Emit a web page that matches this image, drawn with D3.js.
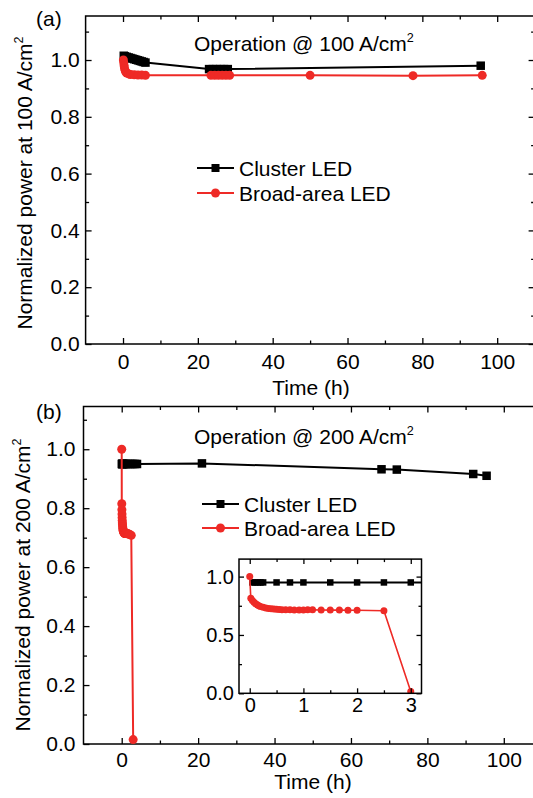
<!DOCTYPE html>
<html><head><meta charset="utf-8">
<script src="https://cdn.jsdelivr.net/npm/d3@7"></script>
<style>
html,body{margin:0;padding:0;background:#fff;}
svg{display:block;font-family:"Liberation Sans",Arial,sans-serif;}
</style></head>
<body><svg id="c" width="533" height="798"></svg>
<script>
// ---------- data ----------
const xTicks = [0, 20, 40, 60, 80, 100];
const xMinorTicks = [10, 30, 50, 70, 90, 110];
const yTicksA = [0, 0.2, 0.4, 0.6, 0.8, 1.0];
const yMinorA = [0.1, 0.3, 0.5, 0.7, 0.9, 1.1];
const insetXTicks = [0, 1, 2, 3];
const insetXMinor = [0.5, 1.5, 2.5];
const insetYTicks = [0, 0.5, 1.0];
const insetYMinor = [0.25, 0.75];

// Panel (a): 100 A/cm2
const tA_cluster = [0.2, 0.5, 1, 1.5, 2, 2.5, 3, 3.5, 4, 4.5, 5, 5.5, 6, 23, 24, 25, 26, 27, 28, 95.6];
const vA_cluster = [1.015, 1.013, 1.011, 1.009, 1.007, 1.005, 1.003, 1.001, 0.999, 0.997, 0.995, 0.993, 0.991, 0.968, 0.968, 0.968, 0.968, 0.968, 0.968, 0.980];
const tA_broad = [0.1, 0.2, 0.3, 0.4, 0.6, 0.8, 1.0, 1.5, 2, 3, 4, 5, 6, 23.5, 24.5, 25.5, 26.5, 27.5, 28.5, 50, 77.5, 96];
const vA_broad = [1.0, 0.99, 0.98, 0.97, 0.962, 0.957, 0.954, 0.951, 0.949, 0.948, 0.947, 0.947, 0.946, 0.946, 0.946, 0.946, 0.946, 0.946, 0.946, 0.946, 0.945, 0.946];

// Panel (b): 200 A/cm2
const tB_cluster = [0.05, 0.1, 0.15, 0.2, 0.25, 0.5, 0.75, 1, 1.5, 2, 2.5, 3, 3.5, 4, 21, 68, 72, 92, 95.5];
const vB_cluster = [0.95, 0.95, 0.95, 0.95, 0.95, 0.95, 0.95, 0.95, 0.95, 0.95, 0.95, 0.95, 0.95, 0.95, 0.952, 0.932, 0.931, 0.916, 0.91];
const tB_broad = [0, 0.02, 0.05, 0.08, 0.11, 0.14, 0.17, 0.2, 0.25, 0.3, 0.35, 0.4, 0.45, 0.5, 0.55, 0.6, 0.67, 0.75, 0.83, 0.92, 1.0, 1.08, 1.17, 1.33, 1.5, 1.67, 1.83, 2.0, 2.5, 3.0];
const vB_broad = [1.0, 0.815, 0.795, 0.78, 0.768, 0.758, 0.75, 0.744, 0.737, 0.731, 0.727, 0.724, 0.722, 0.72, 0.718, 0.717, 0.716, 0.715, 0.714, 0.714, 0.714, 0.715, 0.715, 0.714, 0.713, 0.713, 0.712, 0.712, 0.708, 0.015];

const RED = "#ee2a26";
const svg = d3.select("#c");
const FONT = 21;

function zip(t, v) { return t.map((d, i) => ({ t: d, v: v[i] })); }

function frameAxes(g, x, y, opt) {
  const [x0, x1] = x.range(), [y0, y1] = y.range();
  const maj = opt.maj, mnr = opt.mnr;
  g.append("g").attr("transform", `translate(0,${y0})`)
    .call(d3.axisBottom(x).tickValues(opt.xt).tickSize(-maj).tickSizeOuter(0).tickPadding(opt.xpad).tickFormat(d3.format("d")))
    .call(s => s.selectAll("text").attr("font-size", opt.fs).attr("fill", "#000").attr("font-family", "Liberation Sans, Arial"));
  g.append("g").attr("transform", `translate(0,${y0})`)
    .call(d3.axisBottom(x).tickValues(opt.xm).tickSize(-mnr).tickSizeOuter(0).tickFormat(""));
  g.append("g").attr("transform", `translate(0,${y1})`)
    .call(d3.axisTop(x).tickValues(opt.xt).tickSize(-maj).tickSizeOuter(0).tickFormat(""));
  g.append("g").attr("transform", `translate(0,${y1})`)
    .call(d3.axisTop(x).tickValues(opt.xm).tickSize(-mnr).tickSizeOuter(0).tickFormat(""));
  g.append("g").attr("transform", `translate(${x0},0)`)
    .call(d3.axisLeft(y).tickValues(opt.yt).tickSize(-maj).tickSizeOuter(0).tickPadding(opt.ypad).tickFormat(d3.format(".1f")))
    .call(s => s.selectAll("text").attr("font-size", opt.fs).attr("fill", "#000").attr("font-family", "Liberation Sans, Arial"));
  g.append("g").attr("transform", `translate(${x0},0)`)
    .call(d3.axisLeft(y).tickValues(opt.ym).tickSize(-mnr).tickSizeOuter(0).tickFormat(""));
  g.append("g").attr("transform", `translate(${x1},0)`)
    .call(d3.axisRight(y).tickValues(opt.yt).tickSize(-maj).tickSizeOuter(0).tickFormat(""));
  g.append("g").attr("transform", `translate(${x1},0)`)
    .call(d3.axisRight(y).tickValues(opt.ym).tickSize(-mnr).tickSizeOuter(0).tickFormat(""));
  g.selectAll(".domain").remove();
  g.selectAll(".tick line").attr("stroke", "#000").attr("stroke-width", 1.3);
  g.append("rect").attr("x", x0).attr("y", y1).attr("width", x1 - x0).attr("height", y0 - y1)
    .attr("fill", "none").attr("stroke", "#000").attr("stroke-width", 1.5);
}

function drawSeries(g, x, y, data, color, shape, lw, ms) {
  const line = d3.line().x(d => x(d.t)).y(d => y(d.v));
  g.append("path").datum(data).attr("d", line).attr("fill", "none")
    .attr("stroke", color).attr("stroke-width", lw).attr("stroke-linejoin", "round");
  if (shape === "square") {
    g.selectAll(null).data(data).enter().append("rect")
      .attr("x", d => x(d.t) - ms / 2).attr("y", d => y(d.v) - ms / 2)
      .attr("width", ms).attr("height", ms).attr("fill", color);
  } else {
    g.selectAll(null).data(data).enter().append("circle")
      .attr("cx", d => x(d.t)).attr("cy", d => y(d.v)).attr("r", ms / 2).attr("fill", color);
  }
}

function supText(g, x, y, main, sup, fs, rotate) {
  const t = g.append("text").attr("font-size", fs).attr("fill", "#000");
  if (rotate) t.attr("transform", `translate(${x},${y}) rotate(-90)`).attr("text-anchor", "middle");
  else t.attr("x", x).attr("y", y);
  t.append("tspan").text(main);
  t.append("tspan").attr("font-size", fs * 0.6).attr("dy", -fs * 0.42).text(sup);
  return t;
}

function legend(g, x, y, label, color, shape) {
  g.append("line").attr("x1", x).attr("x2", x + 37).attr("y1", y).attr("y2", y)
    .attr("stroke", color).attr("stroke-width", 2);
  if (shape === "square") g.append("rect").attr("x", x + 18.5 - 4).attr("y", y - 4).attr("width", 8).attr("height", 8).attr("fill", color);
  else g.append("circle").attr("cx", x + 18.5).attr("cy", y).attr("r", 4.5).attr("fill", color);
  g.append("text").attr("x", x + 42).attr("y", y + 7.5).attr("font-size", FONT).text(label);
}

// ---------- Panel (a) ----------
{
  const g = svg.append("g");
  const x = d3.scaleLinear().domain([-10, 110]).range([85.6, 534.6]);
  const y = d3.scaleLinear().domain([0, 1.155]).range([344, 16]);
  frameAxes(g, x, y, { xt: xTicks, xm: xMinorTicks, yt: yTicksA, ym: yMinorA, maj: 6, mnr: 3.5, fs: FONT, xpad: 10, ypad: 6 });
  drawSeries(g, x, y, zip(tA_cluster, vA_cluster), "#000", "square", 2, 8.5);
  drawSeries(g, x, y, zip(tA_broad, vA_broad), RED, "circle", 2, 9);
  g.append("text").attr("x", 36).attr("y", 26).attr("font-size", FONT).text("(a)");
  supText(g, 194, 51, "Operation @ 100 A/cm", "2", FONT, false);
  legend(g, 197, 168, "Cluster LED", "#000", "square");
  legend(g, 197, 193, "Broad-area LED", RED, "circle");
  g.append("text").attr("x", 311).attr("y", 395).attr("text-anchor", "middle").attr("font-size", FONT).text("Time (h)");
  supText(g, 32, 183, "Normalized power at 100 A/cm", "2", FONT, true);
}

// ---------- Panel (b) ----------
{
  const g = svg.append("g");
  const x = d3.scaleLinear().domain([-10, 110]).range([83.5, 542]);
  const y = d3.scaleLinear().domain([0, 1.145]).range([744, 406.5]);
  frameAxes(g, x, y, { xt: xTicks, xm: xMinorTicks, yt: yTicksA, ym: yMinorA, maj: 6, mnr: 3.5, fs: FONT, xpad: 8, ypad: 8 });
  drawSeries(g, x, y, zip(tB_cluster, vB_cluster), "#000", "square", 2, 8.5);
  drawSeries(g, x, y, zip(tB_broad, vB_broad), RED, "circle", 2, 9);
  g.append("text").attr("x", 36).attr("y", 419).attr("font-size", FONT).text("(b)");
  supText(g, 194, 444, "Operation @ 200 A/cm", "2", FONT, false);
  legend(g, 202, 504, "Cluster LED", "#000", "square");
  legend(g, 202, 528, "Broad-area LED", RED, "circle");
  g.append("text").attr("x", 313).attr("y", 789).attr("text-anchor", "middle").attr("font-size", FONT).text("Time (h)");
  supText(g, 30, 585, "Normalized power at 200 A/cm", "2", FONT, true);

  // inset
  const ix = d3.scaleLinear().domain([-0.2, 3.2]).range([239, 421.5]);
  const iy = d3.scaleLinear().domain([0, 1.15]).range([693.3, 559.1]);
  const gi = svg.append("g");
  gi.append("rect").attr("x", 239).attr("y", 559.1).attr("width", 182.5).attr("height", 134.2).attr("fill", "#fff");
  svg.append("defs").append("clipPath").attr("id", "clipI").append("rect")
    .attr("x", 239).attr("y", 559.1).attr("width", 182.5).attr("height", 134.2);
  const gd = gi.append("g").attr("clip-path", "url(#clipI)");
  drawSeries(gd, ix, iy, zip(tB_cluster, vB_cluster), "#000", "square", 2, 6.5);
  drawSeries(gd, ix, iy, zip(tB_broad, vB_broad), RED, "circle", 1.6, 7);
  frameAxes(gi, ix, iy, { xt: insetXTicks, xm: insetXMinor, yt: insetYTicks, ym: insetYMinor, maj: 5, mnr: 3, fs: 20, xpad: 5, ypad: 5 });
}
</script></body></html>
